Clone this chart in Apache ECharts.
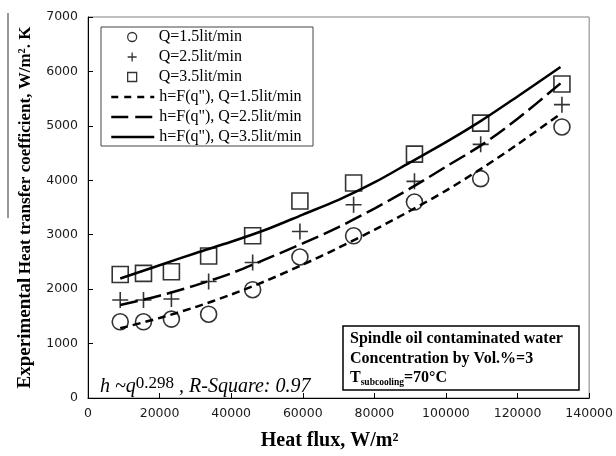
<!DOCTYPE html>
<html><head><meta charset="utf-8">
<script src="https://cdn.jsdelivr.net/npm/echarts@6/dist/echarts.min.js"></script>
<style>html,body{margin:0;padding:0;background:#fff}#c{width:616px;height:456px}</style>
</head><body><div id="c"></div>
<script>
// Experimental points
const heatFlux = [9000, 15500, 23300, 33700, 46000, 59200, 74200, 91200, 109700, 132400];
const hQ15 = [1400, 1400, 1450, 1540, 1990, 2590, 2980, 3600, 4030, 4980];
const hQ25 = [1800, 1800, 1820, 2140, 2490, 3060, 3550, 3980, 4660, 5390];
const hQ35 = [2270, 2290, 2320, 2610, 2980, 3620, 3950, 4480, 5050, 5770];
// Correlation curves h=F(q")
const fitFlux = [9000, 20000, 30000, 40000, 50000, 60000, 70000, 80000, 90000, 100000, 110000, 120000, 132000];
const fitQ15 = [1280, 1470, 1670, 1900, 2160, 2450, 2760, 3090, 3440, 3810, 4220, 4660, 5220];
const fitQ25 = [1710, 1880, 2070, 2290, 2560, 2840, 3140, 3480, 3850, 4250, 4650, 5130, 5780];
const fitQ35 = [2195, 2440, 2660, 2870, 3100, 3370, 3640, 3960, 4330, 4700, 5100, 5540, 6080];
const seriesNames = ['Q=1.5lit/min', 'Q=2.5lit/min', 'Q=3.5lit/min',
  'h=F(q"), Q=1.5lit/min', 'h=F(q"), Q=2.5lit/min', 'h=F(q"), Q=3.5lit/min'];
const xTitle = 'Heat flux, W/m²';
const yTitleA = 'Experimental';
const yTitleB = 'Heat transfer coefficient, W/m². K';
const fitNote = ['h ~q', '0.298', ' , R-Square: 0.97'];
const infoLines = ['Spindle oil contaminated water', 'Concentration by Vol.%=3', 'T', 'subcooling', '=70°C'];

const zip = (xs, ys) => xs.map((x, i) => [x, ys[i]]);
const SERIF = 'Liberation Serif';
const markerStyle = { color: 'rgba(0,0,0,0)', borderColor: '#000', borderWidth: 1.6 };
const symPlus = 'path://M5,0V10M0,5H10';
const symSquare = 'path://M0,0H10V10H0Z';
const plain = v => String(v);

const chart = echarts.init(document.getElementById('c'));
chart.setOption({
  animation: false,
  backgroundColor: '#fff',
  grid: { left: 88, right: 26, top: 17, bottom: 51, show: true, borderColor: '#808080', borderWidth: 1 },
  xAxis: {
    type: 'value', min: 0, max: 140000, interval: 20000,
    axisLine: { lineStyle: { color: '#000', width: 1 } },
    axisTick: { inside: true, length: 5, lineStyle: { color: '#000' } },
    splitLine: { show: false },
    axisLabel: { margin: 9, fontFamily: 'DejaVu Sans', fontSize: 12.5, color: '#1a1a1a', formatter: plain },
    name: xTitle, nameLocation: 'middle', nameGap: 33,
    nameTextStyle: { fontFamily: SERIF, fontWeight: 'bold', fontSize: 20, color: '#000', padding: [0, 18, 0, 0] }
  },
  yAxis: {
    type: 'value', min: 0, max: 7000, interval: 1000,
    axisLine: { show: true, lineStyle: { color: '#000', width: 1 } },
    axisTick: { show: true, inside: true, length: 5, lineStyle: { color: '#000' } },
    splitLine: { show: false },
    axisLabel: { margin: 10, fontFamily: 'DejaVu Sans', fontSize: 12.5, color: '#1a1a1a', formatter: plain },
    name: '{a|' + yTitleA + '} {b|' + yTitleB + '}',
    nameLocation: 'middle', nameRotate: 90, nameGap: 53,
    nameTextStyle: {
      rich: {
        a: { fontFamily: SERIF, fontWeight: 'bold', fontSize: 19, color: '#000' },
        b: { fontFamily: SERIF, fontWeight: 'bold', fontSize: 17, color: '#000' }
      }
    }
  },
  legend: [
    {
      orient: 'vertical', left: 127, top: 27, padding: 0, itemGap: 0,
      itemWidth: 43, itemHeight: 9, selectedMode: false,
      data: seriesNames.slice(0, 3),
      itemStyle: { borderWidth: 1.3 },
      textStyle: { fontFamily: SERIF, fontSize: 16, color: '#000', lineHeight: 20 }
    },
    {
      orient: 'vertical', left: 110, top: 87, padding: 0, itemGap: 0,
      itemWidth: 43, itemHeight: 14, selectedMode: false,
      data: [
        { name: seriesNames[3], lineStyle: { type: [7, 6] } },
        { name: seriesNames[4], lineStyle: { type: [17, 7] } },
        { name: seriesNames[5], lineStyle: { type: 'solid' } }
      ],
      itemStyle: { color: 'rgba(0,0,0,0)', borderWidth: 0 },
      lineStyle: { color: '#000', width: 2.5 },
      textStyle: { fontFamily: SERIF, fontSize: 16, color: '#000', lineHeight: 20 }
    }
  ],
  series: [
    { name: seriesNames[0], type: 'scatter', symbol: 'circle', symbolSize: 16, z: 3,
      itemStyle: markerStyle, data: zip(heatFlux, hQ15) },
    { name: seriesNames[1], type: 'scatter', symbol: symPlus, symbolSize: 16, z: 3,
      itemStyle: markerStyle, data: zip(heatFlux, hQ25) },
    { name: seriesNames[2], type: 'scatter', symbol: symSquare, symbolSize: 16, z: 3,
      itemStyle: markerStyle, data: zip(heatFlux, hQ35) },
    { name: seriesNames[3], type: 'line', symbol: 'none', smooth: 0.3,
      itemStyle: { color: 'rgba(0,0,0,0)' },
      lineStyle: { color: '#000', width: 2.5, type: [8, 5] }, data: zip(fitFlux, fitQ15) },
    { name: seriesNames[4], type: 'line', symbol: 'none', smooth: 0.3,
      itemStyle: { color: 'rgba(0,0,0,0)' },
      lineStyle: { color: '#000', width: 2.5, type: [18, 6] }, data: zip(fitFlux, fitQ25) },
    { name: seriesNames[5], type: 'line', symbol: 'none', smooth: 0.3,
      itemStyle: { color: 'rgba(0,0,0,0)' },
      lineStyle: { color: '#000', width: 2.5, type: 'solid' }, data: zip(fitFlux, fitQ35) }
  ],
  graphic: [
    { type: 'rect', z: 1, shape: { x: 101, y: 27, width: 212, height: 119 },
      style: { fill: 'none', stroke: '#444', lineWidth: 1 } },
    { type: 'line', shape: { x1: 8, y1: 13, x2: 8, y2: 218 },
      style: { stroke: '#333', lineWidth: 1 } },
    { type: 'text', x: 100, y: 387, z: 5,
      style: {
        text: '{i|' + fitNote[0] + '}{s|' + fitNote[1] + '}{i|' + fitNote[2] + '}',
        verticalAlign: 'middle',
        rich: {
          i: { fontFamily: SERIF, fontStyle: 'italic', fontSize: 20, fill: '#000', lineHeight: 24 },
          s: { fontFamily: SERIF, fontSize: 17, fill: '#000', lineHeight: 14, verticalAlign: 'top' }
        }
      } },
    { type: 'rect', z: 5, shape: { x: 343, y: 326, width: 236, height: 64 },
      style: { fill: '#fff', stroke: '#000', lineWidth: 1.5 } },
    { type: 'text', x: 350, y: 329.5, z: 6,
      style: {
        text: '{b|' + infoLines[0] + '}\n{b|' + infoLines[1] + '}\n{b|' + infoLines[2] + '}{sub|' + infoLines[3] + '}{b|' + infoLines[4] + '}',
        verticalAlign: 'top',
        rich: {
          b: { fontFamily: SERIF, fontWeight: 'bold', fontSize: 16, fill: '#000', lineHeight: 19.5 },
          sub: { fontFamily: SERIF, fontWeight: 'bold', fontSize: 9.5, fill: '#000', lineHeight: 10, verticalAlign: 'bottom' }
        }
      } }
  ]
});
</script></body></html>
